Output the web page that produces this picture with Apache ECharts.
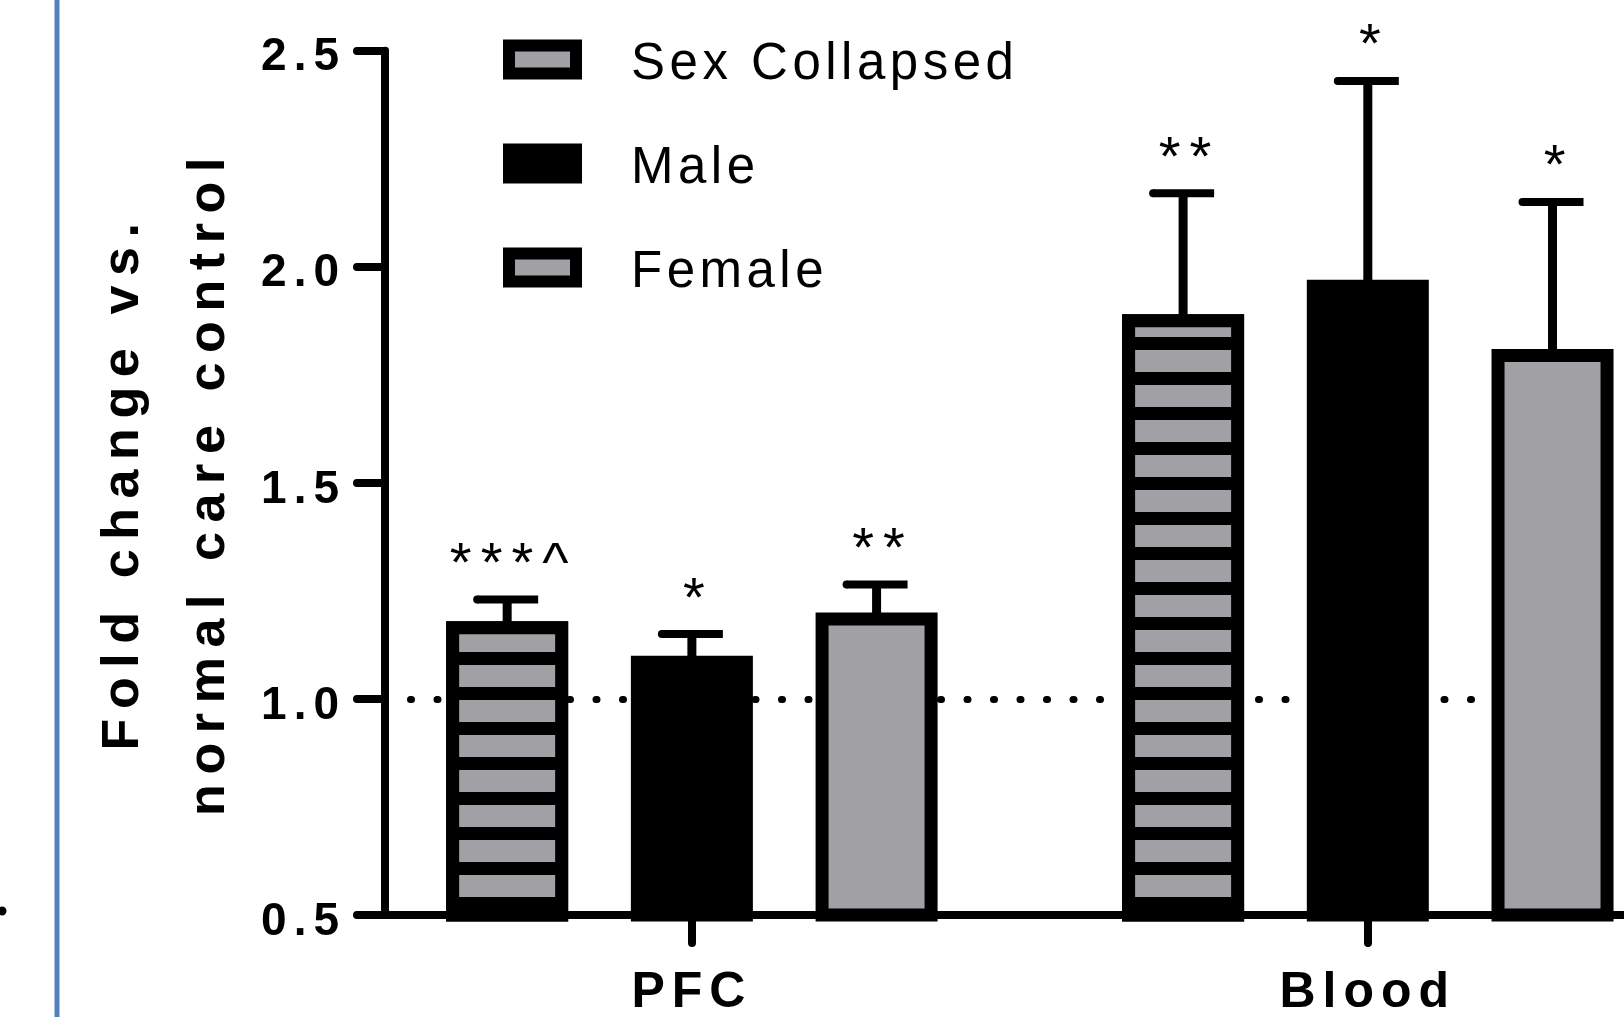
<!DOCTYPE html>
<html>
<head>
<meta charset="utf-8">
<title>Fold change vs. normal care control</title>
<script src="https://cdn.jsdelivr.net/npm/echarts@6/dist/echarts.min.js"></script>
<style>
  html, body { margin: 0; padding: 0; background: #fff; }
  #chart { width: 1624px; height: 1017px; }
</style>
</head>
<body>
<div id="chart"></div>
<script>
// data
const categories = ['PFC', 'Blood']
const groups = ['Sex Collapsed', 'Male', 'Female']

const sexCollapsedMean = [1.18, 1.89]
const sexCollapsedSem = [0.05, 0.28]
const maleMean = [1.10, 1.97]
const maleSem = [0.05, 0.46]
const femaleMean = [1.20, 1.81]
const femaleSem = [0.065, 0.34]

const sexCollapsedMarks = ['***^', '**']
const maleMarks = ['*', '*']
const femaleMarks = ['**', '*']

const yTicks = [0.5, 1.0, 1.5, 2.0, 2.5]
const controlLevel = 1.0

// styling
const FONT = '"Liberation Sans", Arial, Helvetica, sans-serif'
const GRAY = '#a1a0a5'
const BAR_WIDTH = 122
const BAR_GAP = 0.514

// letter-spaced text: every character is its own rich token with right padding
function spaced (str, key) {
	return str.split('').map(c => '{' + key + '|' + c + '}').join('')
}

function letters (size, weight, gap, extra) {
	return Object.assign({
		fontFamily: FONT, fontSize: size, fontWeight: weight,
		color: '#000', padding: [0, gap, 0, 0]
	}, extra || {})
}

const axisLineStyle = { color: '#000', width: 8, cap: 'round' }

function barSeries (name, means, color, decal) {
	return {
		type: 'bar',
		name: name,
		data: means.map((v, i) => [i, v]),
		barWidth: BAR_WIDTH,
		barGap: (BAR_GAP * 100) + '%',
		z: 2,
		itemStyle: { color: color, borderColor: '#000', borderWidth: 13, decal: decal }
	}
}

function errorSeries (name, means, sems, marks, slot) {
	return {
		type: 'custom',
		name: name + ' SEM',
		z: 3,
		data: means.map((m, i) => [i, m, m + sems[i]]),
		encode: { x: 0, y: [1, 2] },
		renderItem: function (params, api) {
			const base = api.coord([api.value(0), api.value(1)])
			const top = api.coord([api.value(0), api.value(2)])
			const x = base[0] + (slot - 1) * BAR_WIDTH * (1 + BAR_GAP)
			const mark = marks[params.dataIndex]
			return {
				type: 'group',
				children: [
					{ type: 'line', shape: { x1: x, y1: base[1] + 4, x2: x, y2: top[1] }, style: { stroke: '#000', lineWidth: 9 } },
					{ type: 'line', shape: { x1: x - 30, y1: top[1], x2: x + 31, y2: top[1] }, style: { stroke: '#000', lineWidth: 8 } },
					{ type: 'circle', shape: { cx: x - 30, cy: top[1], r: 4 }, style: { fill: '#000' } },
					{
						type: 'text', x: x + 2, y: top[1] - 34,
						style: {
							text: spaced(mark, 'mk'),
							rich: { mk: { fontFamily: FONT, fontSize: 56, fill: '#000', padding: [0, 4.5, 0, 4.5] } },
							align: 'center', verticalAlign: 'middle'
						}
					}
				]
			}
		}
	}
}

const stripes = {
	symbol: 'rect', color: GRAY, symbolSize: 1, symbolKeepAspect: false,
	dashArrayX: [1, 0], dashArrayY: [22, 13], rotation: 0
}

const myChart = echarts.init(document.getElementById('chart'))

myChart.setOption({
	animation: false,
	backgroundColor: '#fff',
	grid: { left: 385, right: 0, top: 50.7, bottom: 102, containLabel: false, outerBoundsMode: 'none' },
	legend: {
		orient: 'vertical', left: 503, top: 29, padding: 0,
		itemWidth: 67, itemHeight: 28, itemGap: 43, icon: 'rect',
		selectedMode: false,
		itemStyle: { borderColor: '#000', borderWidth: 12 },
		data: [
			{ name: groups[0], itemStyle: { color: GRAY, decal: 'none' } },
			{ name: groups[1], itemStyle: { color: '#000' } },
			{ name: groups[2], itemStyle: { color: GRAY } }
		],
		formatter: name => '{lgap| }' + spaced(name, 'lg'),
		textStyle: {
			rich: {
				lgap: { width: 50, fontSize: 51, lineHeight: 28, padding: [10, 0, 0, 0] },
				lg: letters(51, 'normal', 4.5, { lineHeight: 28, padding: [10, 4.5, 0, 0] })
			}
		}
	},
	xAxis: {
		type: 'value', min: -0.454, max: 1.379,
		axisLine: { show: true, onZero: false, lineStyle: axisLineStyle },
		axisTick: { show: true, customValues: [0, 1], length: 28, lineStyle: axisLineStyle },
		axisLabel: {
			customValues: [0, 1], margin: 53,
			formatter: v => spaced(categories[v], 'cat'),
			rich: { cat: letters(50, 'bold', 7) }
		},
		splitLine: { show: false }
	},
	yAxis: {
		type: 'value',
		min: yTicks[0], max: yTicks[yTicks.length - 1], interval: yTicks[1] - yTicks[0],
		axisLine: { show: true, onZero: false, lineStyle: axisLineStyle },
		axisTick: { show: true, length: 28, lineStyle: axisLineStyle },
		axisLabel: {
			margin: 39, padding: [14, 0, 0, 0],
			formatter: v => spaced(v.toFixed(1), 'num'),
			rich: { num: letters(46, 'bold', 7) }
		},
		splitLine: { show: false }
	},
	graphic: [
		{ type: 'line', shape: { x1: 57, y1: 0, x2: 57, y2: 1017 }, style: { stroke: '#4f81bd', lineWidth: 5 } },
		{ type: 'circle', shape: { cx: 2, cy: 911, r: 4.5 }, style: { fill: '#000' } },
		{
			type: 'text', x: 81, y: 482, rotation: Math.PI / 2,
			style: {
				text: spaced('Fold change vs.', 'tt') + '\n' + spaced('normal care control', 'tt'),
				rich: { tt: { fontFamily: FONT, fontSize: 52, fontWeight: 'bold', fill: '#000', padding: [0, 9.6, 0, 0], lineHeight: 86 } },
				align: 'center', verticalAlign: 'top'
			}
		}
	],
	series: [
		{
			type: 'line', name: 'control', data: [], silent: true,
			markLine: {
				z: 1, silent: true, symbol: 'none', label: { show: false },
				lineStyle: { color: '#000', width: 7, type: [1, 25.5], cap: 'round', dashOffset: 1 },
				data: [{ yAxis: controlLevel }]
			}
		},
		barSeries(groups[0], sexCollapsedMean, '#000', stripes),
		barSeries(groups[1], maleMean, '#000'),
		barSeries(groups[2], femaleMean, GRAY),
		errorSeries(groups[0], sexCollapsedMean, sexCollapsedSem, sexCollapsedMarks, 0),
		errorSeries(groups[1], maleMean, maleSem, maleMarks, 1),
		errorSeries(groups[2], femaleMean, femaleSem, femaleMarks, 2)
	]
})
</script>
</body>
</html>
